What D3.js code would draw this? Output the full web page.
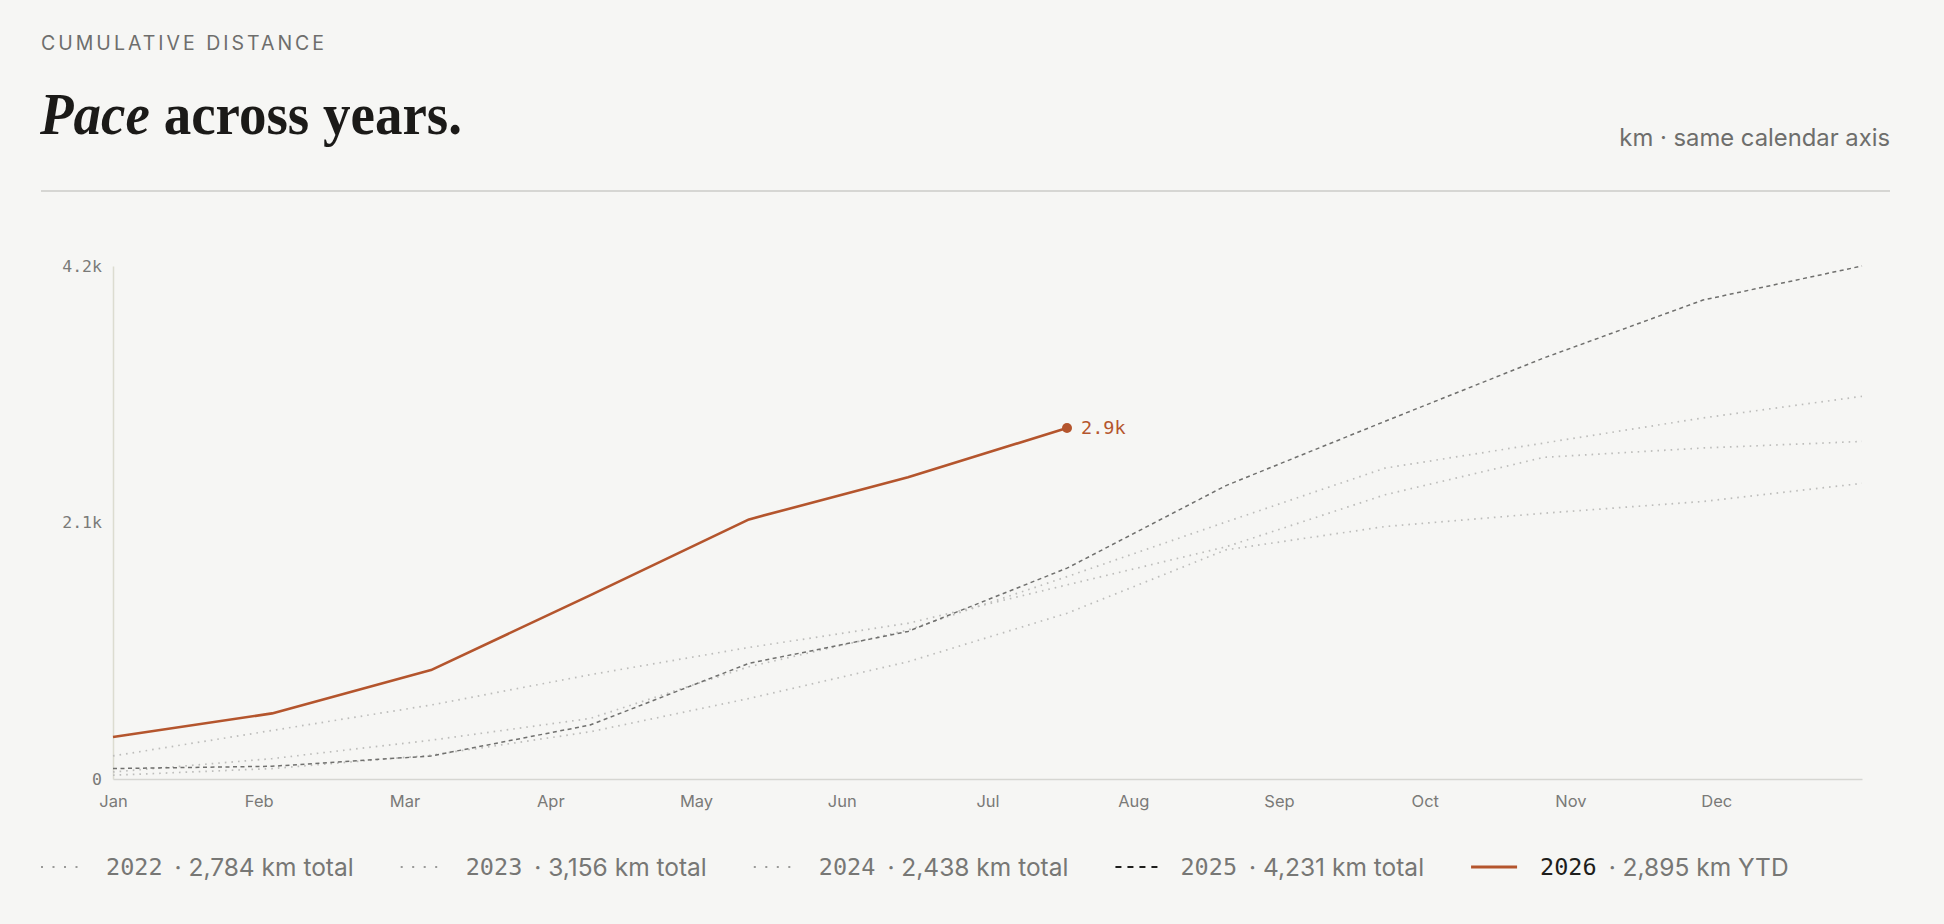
<!DOCTYPE html>
<html>
<head>
<meta charset="utf-8">
<script src="https://cdn.jsdelivr.net/npm/d3@7"></script>
<style>
  body { margin: 0; background: #f6f6f4; }
  svg { display: block; }
</style>
</head>
<body>
<div id="chart"></div>
<script>
// Month labels along the bottom
var months = ["Jan", "Feb", "Mar", "Apr", "May", "Jun", "Jul", "Aug", "Sep", "Oct", "Nov", "Dec"];

// Cumulative km at each monthly point
var km2022 = [190, 400, 610, 860, 1085, 1284, 1601, 1915, 2344, 2653, 2730, 2784];
var km2023 = [58, 168, 320, 499, 926, 1229, 1669, 2120, 2564, 2771, 2978, 3156];
var km2024 = [31, 86, 196, 389, 664, 967, 1367, 1890, 2082, 2192, 2289, 2438];
var km2025 = [86, 105, 190, 445, 954, 1217, 1739, 2420, 2950, 3473, 3950, 4231];
var km2026 = [347, 541, 898, 1515, 2141, 2489, 2895];

var years = ["2022", "2023", "2024", "2025", "2026"];
var totals = [2784, 3156, 2438, 4231, 2895];
var totalNotes = ["km total", "km total", "km total", "km total", "km YTD"];

var width = 1944,
    height = 924,
    margin = {top: 266, right: 82, bottom: 145, left: 113};

var sans = "Inter, 'Noto Sans', sans-serif",
    mono = "'DejaVu Sans Mono', 'Liberation Mono', monospace",
    serif = "'Liberation Serif', 'DejaVu Serif', serif";

var orange = "#b4552d";

var series = [
  {year: years[0], values: km2022, stroke: "#bdbdbb", dash: "1.6,5", w: 1.7},
  {year: years[1], values: km2023, stroke: "#bdbdbb", dash: "1.6,5", w: 1.7},
  {year: years[2], values: km2024, stroke: "#bdbdbb", dash: "1.6,5", w: 1.7},
  {year: years[3], values: km2025, stroke: "#70706e", dash: "4,3.5", w: 1.5},
  {year: years[4], values: km2026, stroke: orange, dash: null, w: 2.6}
];

var svg = d3.select("#chart")
  .append("svg")
    .attr("width", width)
    .attr("height", height)
    .attr("viewBox", [0, 0, width, height]);

// Header
svg.append("text")
    .attr("x", 41)
    .attr("y", 50)
    .attr("font-family", sans)
    .attr("font-size", 19.5)
    .attr("letter-spacing", 3)
    .attr("fill", "#6e6e6c")
    .text("CUMULATIVE DISTANCE");

var title = svg.append("text")
    .attr("transform", "translate(40,134) scale(0.965,1.02)")
    .attr("font-family", serif)
    .attr("font-size", 57)
    .attr("font-weight", 700)
    .attr("fill", "#1b1a18");
title.append("tspan").attr("font-style", "italic").text("Pace");
title.append("tspan").text(" across years.");

svg.append("text")
    .attr("x", 1890)
    .attr("y", 146)
    .attr("text-anchor", "end")
    .attr("font-family", sans)
    .attr("font-size", 23.8)
    .attr("fill", "#6e6e6c")
    .text("km \u00b7 same calendar axis");

svg.append("line")
    .attr("x1", 41).attr("x2", 1890)
    .attr("y1", 191).attr("y2", 191)
    .attr("stroke", "#d6d6d3")
    .attr("stroke-width", 2);

// Scales
var x = d3.scaleLinear()
    .domain([0, 11])
    .range([margin.left, width - margin.right]);

var xMonth = d3.scaleLinear()
    .domain([0, 12])
    .range([margin.left, width - margin.right]);

var yMax = totals[3];
var y = d3.scaleLinear()
    .domain([0, yMax])
    .range([height - margin.bottom, margin.top]);

function kFormat(d) {
  return d === 0 ? "0" : (d / 1000).toFixed(1) + "k";
}

// Axes
var yAxis = svg.append("g")
    .attr("transform", `translate(${margin.left},0)`)
    .call(d3.axisLeft(y).tickValues([0, yMax / 2, yMax]).tickFormat(kFormat).tickSize(0).tickPadding(11));
yAxis.select(".domain").attr("stroke", "#dcdcd0").attr("stroke-width", 1.5);
yAxis.selectAll("text")
    .attr("font-family", mono)
    .attr("font-size", 16.5)
    .attr("fill", "#7a7a78");

var xAxis = svg.append("g")
    .attr("transform", `translate(0,${y(0)})`)
    .call(d3.axisBottom(xMonth).tickValues(d3.range(12)).tickFormat(i => months[i]).tickSize(0).tickPadding(16));
xAxis.select(".domain").attr("stroke", "#d6d6d2").attr("stroke-width", 1.5);
xAxis.selectAll("text")
    .attr("font-family", sans)
    .attr("font-size", 16.5)
    .attr("fill", "#7a7a78");

// Lines
var line = d3.line()
    .x((d, i) => x(i))
    .y(d => y(d));

svg.append("g")
  .selectAll("path")
  .data(series)
  .join("path")
    .attr("d", d => line(d.values))
    .attr("fill", "none")
    .attr("stroke", d => d.stroke)
    .attr("stroke-width", d => d.w)
    .attr("stroke-dasharray", d => d.dash)
    .attr("stroke-linejoin", "round");

// End marker for the current year
var lastI = km2026.length - 1;
svg.append("circle")
    .attr("cx", x(lastI))
    .attr("cy", y(km2026[lastI]))
    .attr("r", 5)
    .attr("fill", orange);

svg.append("text")
    .attr("x", x(lastI) + 14)
    .attr("y", y(km2026[lastI]))
    .attr("dy", "0.35em")
    .attr("font-family", mono)
    .attr("font-size", 18.5)
    .attr("fill", orange)
    .text(kFormat(km2026[lastI]));

// Legend
var legend = svg.append("g").attr("transform", "translate(41,867)");
var lx = 0;
series.forEach(function(s, i) {
  var g = legend.append("g").attr("transform", `translate(${lx},0)`);
  var sw = i === 4 ? 46 : 42;
  g.append("line")
      .attr("x1", 0).attr("x2", sw)
      .attr("y1", 0).attr("y2", 0)
      .attr("stroke", i === 4 ? orange : (i === 3 ? "#1e1e1c" : "#9a9a98"))
      .attr("stroke-width", i === 4 ? 3 : 1.8)
      .attr("stroke-dasharray", i === 4 ? null : (i === 3 ? "6,6" : "2,9.5"));
  var yr = g.append("text")
      .attr("x", sw + 23)
      .attr("dy", "0.36em")
      .attr("font-family", mono)
      .attr("font-size", 23.5)
      .attr("fill", i === 4 ? "#1e1e1c" : "#777775")
      .text(s.year);
  var yw = yr.node().getComputedTextLength();
  var note = g.append("text")
      .attr("x", sw + 23 + yw + 12)
      .attr("dy", "0.36em")
      .attr("font-family", sans)
      .attr("font-size", 24.5)
      .attr("fill", "#777775")
      .text("\u00b7 " + d3.format(",")(totals[i]) + " " + totalNotes[i]);
  lx += sw + 23 + yw + 12 + note.node().getComputedTextLength() + 47;
});
</script>
</body>
</html>
